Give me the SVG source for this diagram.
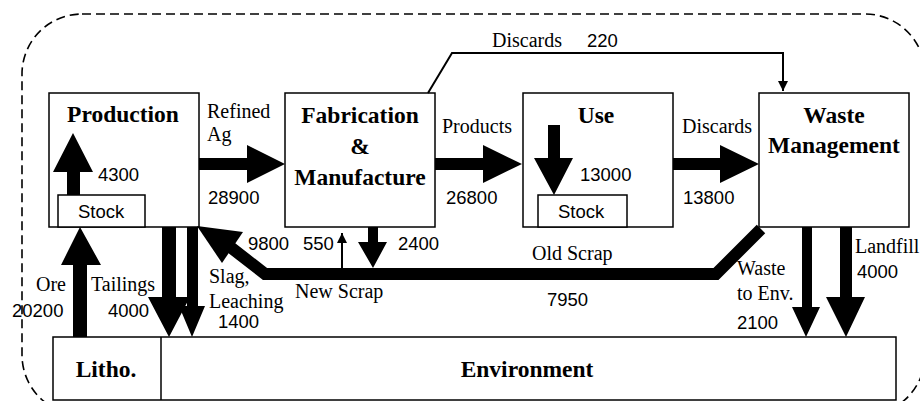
<svg xmlns="http://www.w3.org/2000/svg" width="920" height="401" viewBox="0 0 920 401">
  <style>
    .box { fill: #fff; stroke: #000; stroke-width: 1.5; }
    .title { font-family: "Liberation Serif", "Times New Roman", serif; font-weight: bold; font-size: 23.5px; fill: #000; text-anchor: middle; }
    .lbl { font-family: "Liberation Serif", "Times New Roman", serif; font-size: 20px; fill: #000; }
    .num { font-family: "Liberation Sans", Arial, sans-serif; font-size: 18.5px; fill: #000; }
    .flow { fill: #000; stroke: none; }
    .thin { fill: none; stroke: #000; stroke-width: 2; }
    .border { fill: none; stroke: #000; stroke-width: 1.6; stroke-dasharray: 9 5; }
  </style>
  <defs>
    <marker id="tip" viewBox="0 0 10 10" refX="10" refY="5" markerWidth="5" markerHeight="6" markerUnits="strokeWidth" orient="auto">
      <path d="M0,0 L10,5 L0,10 z" fill="#000"/>
    </marker>
  </defs>

  <rect width="920" height="401" fill="#fff"/>

  <!-- system boundary -->
  <rect class="border" x="22" y="14" width="903" height="401" rx="60" ry="60"/>

  <!-- nodes -->
  <g id="production">
    <rect class="box" x="49" y="93" width="150" height="134"/>
    <rect class="box" x="58" y="195" width="87" height="32"/>
    <text class="title" x="123" y="122">Production</text>
    <text class="num" x="78" y="218">Stock</text>
    <!-- stock build-up -->
    <path class="flow" d="M67,195 L67,172 L53,172 L73,133 L93,172 L80,172 L80,195 z"/>
    <text class="num" x="98" y="181">4300</text>
  </g>

  <g id="fabrication">
    <rect class="box" x="285" y="93" width="150" height="134"/>
    <text class="title" x="360" y="123">Fabrication</text>
    <text class="title" x="360" y="154">&amp;</text>
    <text class="title" x="360" y="185">Manufacture</text>
  </g>

  <g id="use">
    <rect class="box" x="523" y="93" width="150" height="134"/>
    <rect class="box" x="538" y="195" width="89" height="32"/>
    <text class="title" x="596" y="123">Use</text>
    <text class="num" x="558" y="218">Stock</text>
    <path class="flow" d="M548,125 L560,125 L560,158 L573,158 L554,195 L534,158 L548,158 z"/>
    <text class="num" x="580" y="181">13000</text>
  </g>

  <g id="waste-management">
    <rect class="box" x="759" y="93" width="150" height="134"/>
    <text class="title" x="834" y="123">Waste</text>
    <text class="title" x="834" y="153">Management</text>
  </g>

  <g id="environment">
    <rect class="box" x="53" y="337" width="843" height="63"/>
    <line x1="161" y1="337" x2="161" y2="400" stroke="#000" stroke-width="1.5"/>
    <text class="title" x="106" y="377">Litho.</text>
    <text class="title" x="527" y="377">Environment</text>
  </g>

  <!-- flows -->
  <g id="connectors">
    <!-- Refined Ag -->
    <path class="flow" d="M199,158 L247,158 L247,145 L285,164 L247,183 L247,170 L199,170 z"/>
    <!-- Products -->
    <path class="flow" d="M435,158 L483,158 L483,145 L522,164 L483,183 L483,170 L435,170 z"/>
    <!-- Discards from use -->
    <path class="flow" d="M673,158 L720,158 L720,145 L759,164 L720,183 L720,170 L673,170 z"/>
    <!-- Discards from fabrication -->
    <path class="thin" d="M428,93 L452,53 L783,53 L783,91" marker-end="url(#tip)"/>
    <!-- Ore -->
    <path class="flow" d="M73,337 L73,265 L61,265 L80,227 L101,265 L87,265 L87,337 z"/>
    <!-- Tailings -->
    <path class="flow" d="M162,227 L176,227 L176,297 L190,297 L169,337 L148,297 L162,297 z"/>
    <!-- Slag, leaching -->
    <path class="flow" d="M187,227 L198,227 L198,306 L205,306 L192,337 L179,306 L187,306 z"/>
    <!-- Old scrap return -->
    <polyline points="229,246 265,274 716,274 761,229" fill="none" stroke="#000" stroke-width="12" stroke-linejoin="miter"/>
    <path class="flow" d="M197,226 L243,232 L222,263 z"/>
    <!-- New scrap -->
    <path d="M342,268 L342,233" fill="none" stroke="#000" stroke-width="2" marker-end="url(#tip)"/>
    <path class="flow" d="M368,227 L378,227 L378,242 L387,242 L373,268 L358,242 L368,242 z"/>
    <!-- Waste to environment -->
    <path class="flow" d="M802,227 L812,227 L812,307 L820,307 L806,337 L792,307 L802,307 z"/>
    <!-- Landfill -->
    <path class="flow" d="M840,227 L852,227 L852,297 L865,297 L846,337 L826,297 L840,297 z"/>
  </g>

  <!-- flow labels -->
  <g id="labels">
    <text class="lbl" x="207" y="118">Refined</text>
    <text class="lbl" x="207" y="141">Ag</text>
    <text class="num" x="208" y="204">28900</text>
    <text class="lbl" x="442" y="133">Products</text>
    <text class="num" x="446" y="204">26800</text>
    <text class="lbl" x="682" y="133">Discards</text>
    <text class="num" x="683" y="204">13800</text>
    <text class="lbl" x="492" y="47">Discards</text>
    <text class="num" x="587" y="47">220</text>
    <text class="num" x="248" y="250">9800</text>
    <text class="num" x="303" y="250">550</text>
    <text class="num" x="398" y="250">2400</text>
    <text class="lbl" x="532" y="260">Old Scrap</text>
    <text class="lbl" x="295" y="298">New Scrap</text>
    <text class="num" x="547" y="306">7950</text>
    <text class="lbl" x="209" y="283">Slag,</text>
    <text class="lbl" x="209" y="308">Leaching</text>
    <text class="num" x="218" y="328">1400</text>
    <text class="lbl" x="36" y="291">Ore</text>
    <text class="num" x="12" y="317">20200</text>
    <text class="lbl" x="91" y="291">Tailings</text>
    <text class="num" x="108" y="317">4000</text>
    <text class="lbl" x="737" y="275">Waste</text>
    <text class="lbl" x="737" y="300">to Env.</text>
    <text class="num" x="737" y="329">2100</text>
    <text class="lbl" x="855" y="253">Landfill</text>
    <text class="num" x="857" y="278">4000</text>
  </g>
</svg>
